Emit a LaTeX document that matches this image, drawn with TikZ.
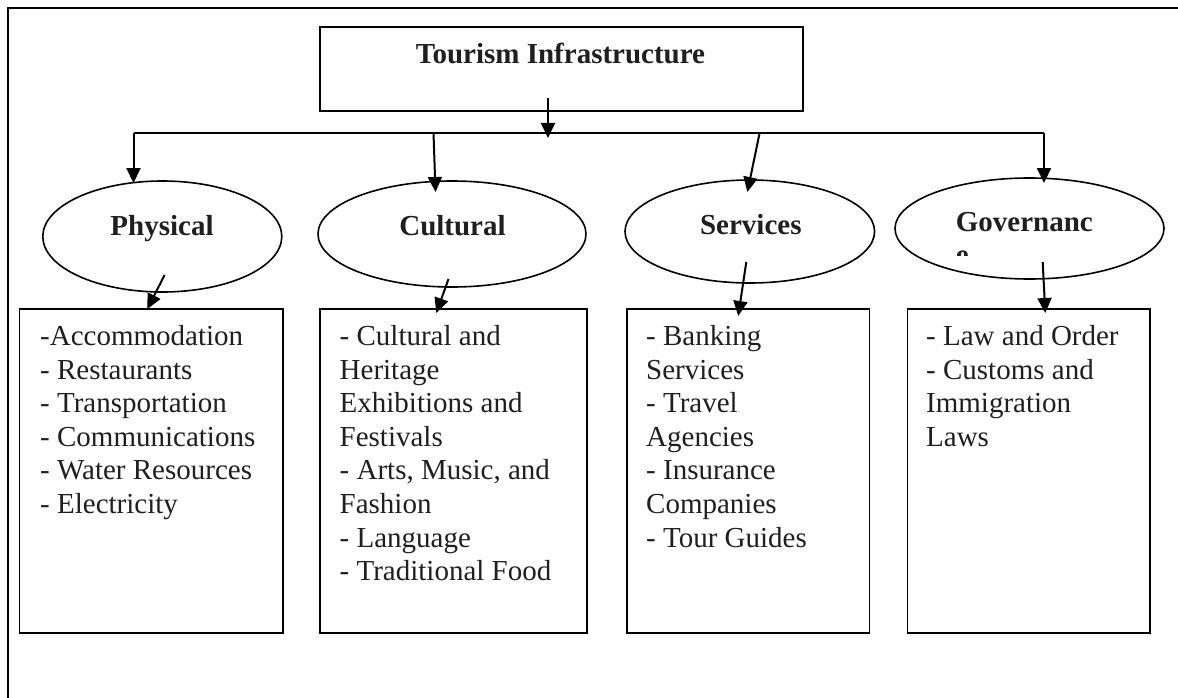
\documentclass[tikz,border=0pt]{standalone}
\usepackage{fontspec}
\setmainfont{Liberation Serif}
\usetikzlibrary{arrows.meta,shapes.geometric}
\newcommand\listtext[1]{\parbox[t]{250pt}{\raggedright\fontsize{29}{33.6}\selectfont #1}}
\tikzset{
  frameline/.style={line width=2pt},
  boxnode/.style={draw, line width=1.6pt, rectangle, inner sep=0pt, anchor=north west},
  ell/.style={draw, line width=1.6pt, ellipse, inner sep=0pt},
  lbl/.style={font=\fontsize{29}{33.6}\selectfont\bfseries, inner sep=0pt, anchor=base, text=black!88},
  listnode/.style={inner sep=0pt, anchor=base west, text=black!88},
  conn/.style={line width=2pt},
  arr/.style={line width=2pt, -{Triangle[length=15pt,width=14pt]}}
}
\begin{document}
\begin{tikzpicture}[x=1pt,y=-1pt]
\useasboundingbox (0,0) rectangle (1178,698);
% outer frame (top and left lines)
\coordinate (fr1) at (1178,8.5);
\coordinate (fr2) at (7.5,8.5);
\coordinate (fr3) at (7.5,698);
\draw[frameline] (fr1) -- (fr2) -- (fr3);

% title
\node[boxnode, minimum width=483pt, minimum height=84pt] (title) at (319,26) {};
\node[lbl] (titletext) at (560.5,64) {Tourism Infrastructure};

% ellipses
\node[ell, minimum width=239pt, minimum height=111pt] (ephys) at (162.3,236.5) {};
\node[ell, minimum width=268pt, minimum height=106pt] (ecult) at (452,234) {};
\node[ell, minimum width=249.6pt, minimum height=103pt] (eserv) at (749.8,231.5) {};
\node[ell, minimum width=269pt, minimum height=101pt] (egov) at (1029.5,228.5) {};
\node[lbl] (lphys) at (162,235) {Physical};
\node[lbl] (lcult) at (452.5,235) {Cultural};
\node[lbl] (lserv) at (750.8,234) {Services};
\node[lbl, anchor=base west] (lgov) at (955.7,231) {Governanc};
\begin{scope}
\clip (948,248) rectangle (980,255.5);
\node[lbl, anchor=base west] (lgove) at (955.7,264.6) {e};
\end{scope}

% boxes
\node[boxnode, minimum width=263.5pt, minimum height=324pt] (bphys) at (18.5,308) {};
\node[boxnode, minimum width=267pt, minimum height=324pt] (bcult) at (319,308) {};
\node[boxnode, minimum width=242.5pt, minimum height=324pt] (bserv) at (626,308) {};
\node[boxnode, minimum width=242.5pt, minimum height=324pt] (bgov) at (906.5,308) {};

\node[listnode] (tphys) at (40,345.5) {\listtext{-Accommodation\\- Restaurants\\- Transportation\\- Communications\\- Water Resources\\- Electricity}};
\node[listnode] (tcult) at (339.5,345.5) {\listtext{- Cultural and\\Heritage\\Exhibitions and\\Festivals\\- Arts, Music, and\\Fashion\\- Language\\- Traditional Food}};
\node[listnode] (tserv) at (646,345.5) {\listtext{- Banking\\Services\\- Travel\\Agencies\\- Insurance\\Companies\\- Tour Guides}};
\node[listnode] (tgov) at (926,345.5) {\listtext{- Law and Order\\- Customs and\\Immigration\\Laws}};

% connector points
\coordinate (ts) at (548,98);
\coordinate (te) at (548,138);
\coordinate (hl) at (133.5,133);
\coordinate (hr) at (1044,133);
\coordinate (hc) at (433.5,133);
\coordinate (hs) at (759.6,133);
\coordinate (pin) at (133.5,183);
\coordinate (cin) at (435.5,192);
\coordinate (sin) at (747.4,192);
\coordinate (gin) at (1044,183);
\coordinate (pa) at (164.6,275);
\coordinate (pb) at (147.3,309);
\coordinate (ca) at (448.5,279);
\coordinate (cb) at (436.3,313);
\coordinate (sa) at (746.3,262);
\coordinate (sb) at (738.2,316);
\coordinate (ga) at (1042.7,262);
\coordinate (gb) at (1045.3,313);

\draw[arr] (ts) -- (te);
\draw[conn] (hl) -- (hr);
\draw[arr] (hl) -- (pin);
\draw[arr] (hc) -- (cin);
\draw[arr] (hs) -- (sin);
\draw[arr] (hr) -- (gin);
\draw[arr] (pa) -- (pb);
\draw[arr] (ca) -- (cb);
\draw[arr] (sa) -- (sb);
\draw[arr] (ga) -- (gb);
\end{tikzpicture}
\end{document}
